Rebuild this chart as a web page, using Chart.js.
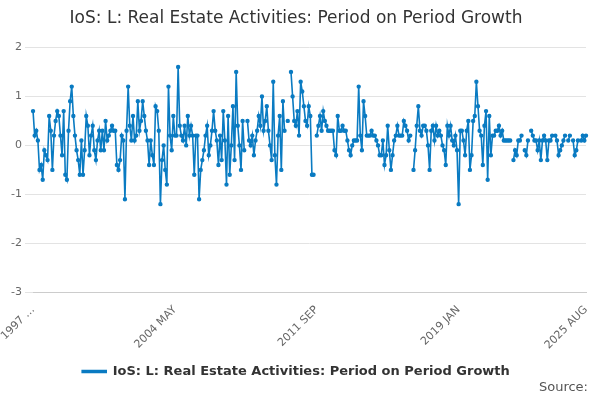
<!DOCTYPE html>
<html>
<head>
<meta charset="utf-8">
<script src="https://cdn.jsdelivr.net/npm/chart.js@4"></script>
<style>
  body { margin: 0; background: #fff; font-family: "DejaVu Sans", sans-serif; }
  #wrap { width: 600px; height: 400px; position: relative; }
  #source { position: absolute; right: 12px; bottom: 6px; font-size: 13px; color: #555; }
</style>
</head>
<body>
<div id="wrap"><canvas id="chart" width="600" height="400"></canvas><div id="source">Source:</div></div>
<script>
const months = ['JAN','FEB','MAR','APR','MAY','JUN','JUL','AUG','SEP','OCT','NOV','DEC'];
const labels = [];
for (let y = 1997; y <= 2025; y++) {
  for (let m = 0; m < 12; m++) {
    if (y === 2025 && m > 7) break;
    labels.push(y + ' ' + months[m]);
  }
}
const shownTicks = ['1997 JAN', '2004 MAY', '2011 SEP', '2019 JAN', '2025 AUG'];

const growth = [
  // 1997
  0.7, 0.2, 0.3, 0.1, -0.5, -0.4, -0.7, -0.1, -0.2, -0.3, 0.6, 0.3,
  // 1998
  -0.5, 0.2, 0.5, 0.7, 0.6, 0.2, -0.2, 0.7, -0.6, -0.7, 0.3, 0.9,
  // 1999
  1.2, 0.6, 0.2, -0.1, -0.3, -0.6, 0.1, -0.6, -0.1, 0.6, 0.4, -0.2,
  // 2000
  0.2, 0.4, -0.1, -0.3, 0.1, 0.3, -0.1, 0.3, -0.1, 0.5, 0.1, 0.2,
  // 2001
  0.3, 0.4, 0.3, 0.3, -0.4, -0.5, -0.3, 0.2, 0.1, -1.1, 0.3, 1.2,
  // 2002
  0.4, 0.1, 0.6, 0.1, 0.2, 0.9, 0.3, 0.5, 0.9, 0.6, 0.3, 0.1,
  // 2003
  -0.4, 0.1, -0.2, -0.4, 0.8, 0.7, 0.3, -1.2, -0.3, 0.0, -0.5, -0.8,
  // 2004
  1.2, 0.2, -0.1, 0.6, 0.2, 0.2, 1.6, 0.4, 0.2, 0.1, 0.4, 0.0,
  // 2005
  0.6, 0.2, 0.4, 0.2, -0.6, 0.2, 0.2, -1.1, -0.5, -0.3, -0.1, 0.2,
  // 2006
  0.4, -0.2, 0.0, 0.3, 0.7, 0.3, 0.1, -0.4, 0.2, -0.3, 0.7, 0.1,
  // 2007
  -0.8, 0.6, -0.6, 0.0, 0.8, -0.3, 1.5, 0.4, 0.0, -0.5, 0.5, -0.1,
  // 2008
  null, 0.5, 0.1, 0.0, 0.2, -0.2, 0.1, 0.3, 0.6, 0.4, 1.0, 0.3,
  // 2009
  0.5, 0.8, 0.3, 0.0, -0.3, 1.3, -0.2, -0.8, 0.2, 0.6, -0.5, 0.9,
  // 2010
  0.3, null, 0.5, null, 1.5, 1.0, 0.5, 0.4, 0.7, 0.2, 1.3, 1.1,
  // 2011
  0.8, 0.5, 0.4, 0.8, 0.6, -0.6, -0.6, null, 0.2, 0.4, 0.6, 0.3,
  // 2012
  0.7, 0.5, 0.4, 0.3, 0.3, 0.3, 0.3, -0.1, -0.2, 0.6, 0.3, 0.3,
  // 2013
  0.4, 0.3, 0.3, 0.1, -0.1, -0.2, 0.0, 0.1, 0.1, 0.1, 1.2, 0.2,
  // 2014
  -0.1, 0.9, 0.6, 0.2, 0.2, 0.2, 0.3, 0.2, 0.2, 0.1, 0.0, -0.2,
  // 2015
  -0.2, 0.1, -0.4, -0.2, 0.4, -0.1, -0.5, -0.2, 0.1, 0.2, 0.4, 0.2,
  // 2016
  0.2, 0.2, 0.5, 0.4, 0.3, 0.1, 0.2, null, -0.5, -0.1, 0.4, 0.8,
  // 2017
  0.3, 0.2, 0.4, 0.4, 0.3, 0.0, -0.5, 0.3, 0.4, 0.1, 0.4, 0.2,
  // 2018
  0.3, 0.2, 0.0, -0.1, -0.4, 0.4, 0.2, 0.4, 0.1, 0.0, 0.2, -0.1,
  // 2019
  -1.2, 0.3, 0.3, 0.1, -0.2, 0.3, 0.5, -0.5, -0.2, 0.5, 0.6, 1.3,
  // 2020
  0.8, 0.3, 0.2, -0.4, 0.4, 0.7, -0.7, 0.6, -0.2, 0.2, 0.2, 0.3,
  // 2021
  0.3, 0.4, 0.2, 0.3, 0.1, 0.1, 0.1, 0.1, 0.1, null, -0.3, -0.1,
  // 2022
  -0.2, 0.1, 0.1, 0.2, null, -0.1, -0.2, 0.1, null, 0.3, 0.2, 0.1,
  // 2023
  0.1, -0.1, 0.1, -0.3, 0.1, 0.2, 0.1, -0.3, 0.1, 0.1, 0.2, null,
  // 2024
  0.2, 0.1, -0.2, -0.1, 0.0, 0.1, 0.2, null, 0.1, 0.2, null, 0.1,
  // 2025
  -0.2, -0.1, 0.1, null, 0.1, 0.2, 0.1, 0.2
];

new Chart(document.getElementById('chart'), {
  type: 'line',
  data: {
    labels: labels,
    datasets: [{
      label: 'IoS: L: Real Estate Activities: Period on Period Growth',
      data: growth,
      borderColor: '#0a7bc2',
      backgroundColor: '#0a7bc2',
      borderWidth: 1.6,
      pointRadius: 1.4,
      pointHoverRadius: 3,
      spanGaps: false,
      tension: 0
    }]
  },
  options: {
    responsive: false,
    animation: false,
    layout: { padding: { left: 6, right: 14, top: 4, bottom: 12 } },
    plugins: {
      title: {
        display: true,
        text: 'IoS: L: Real Estate Activities: Period on Period Growth',
        color: '#333',
        font: { size: 17, family: 'DejaVu Sans', weight: 'normal' },
        padding: { top: 4, bottom: 19 }
      },
      legend: {
        position: 'bottom',
        labels: { color: '#333', font: { size: 13, family: 'DejaVu Sans', weight: 'bold' }, boxWidth: 24, boxHeight: 2 }
      },
      tooltip: { enabled: false }
    },
    scales: {
      x: {
        grid: { display: false },
        border: { color: '#ccc' },
        ticks: {
          autoSkip: false,
          maxRotation: 45,
          minRotation: 45,
          color: '#666',
          font: { size: 11, family: 'DejaVu Sans' },
          callback: function (v, i) {
            const l = labels[i];
            return shownTicks.includes(l) ? (i === 0 ? '1997 …' : l) : null;
          }
        }
      },
      y: {
        min: -3,
        max: 2,
        grid: { color: '#e3e3e3' },
        border: { display: false },
        ticks: { stepSize: 1, color: '#666', font: { size: 11, family: 'DejaVu Sans' } }
      }
    }
  }
});
</script>
</body>
</html>
